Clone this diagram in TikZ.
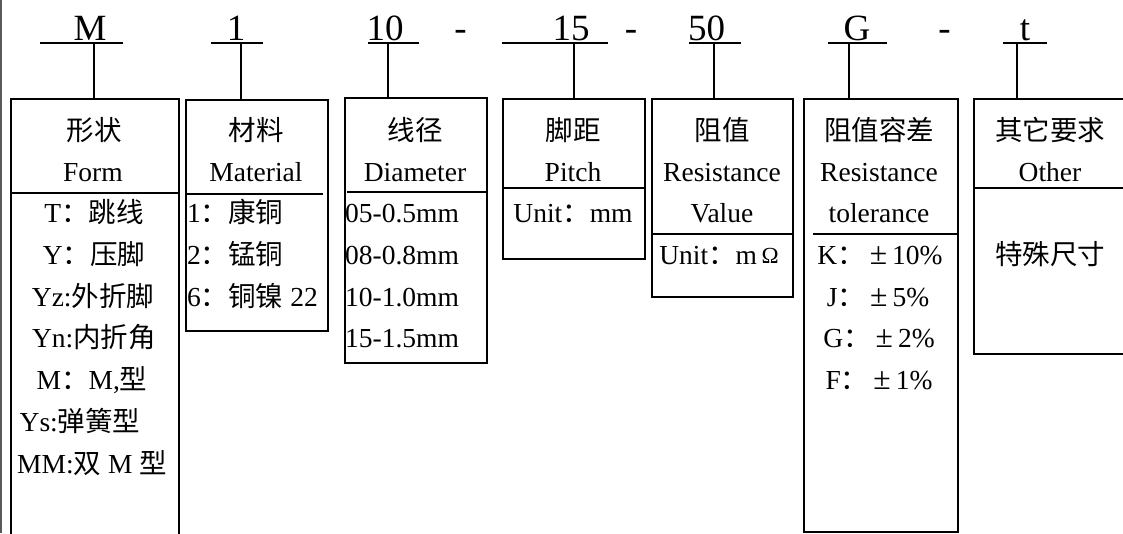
\documentclass[tikz,border=0pt]{standalone}
\usepackage{fontspec}
\setmainfont{Liberation Serif}
\newfontfamily\cjk{Noto Sans CJK SC}
\newcommand\C[1]{{\cjk #1}}
\newcommand\pmw{\makebox[1em]{\scalebox{1.15}{±}}}
\begin{document}
\begin{tikzpicture}[x=1pt,y=-1pt,
  code/.style={font=\fontsize{37}{40}\selectfont, anchor=base, inner sep=0pt},
  txt/.style={font=\fontsize{27.5}{33}\selectfont, anchor=base, inner sep=0pt},
  ltxt/.style={txt, anchor=base west},
  box/.style={draw, line width=1.7pt, anchor=north west, inner sep=0pt},
  divline/.style={line width=2.4pt},
  uline/.style={line width=1.4pt},
  conn/.style={line width=1.4pt},
  thickconn/.style={line width=2.8pt},
]
\useasboundingbox (0,0) rectangle (1123,533);
\fill[white] (0,0) rectangle (1123,533);
\clip (0,0) rectangle (1123,533);
\draw[line width=1.6pt, black!65] (1,0) -- (1,533);

% boxes
\node[box, minimum width=168pt, minimum height=460pt] (bForm) at (10,98) {};
\node[box, minimum width=142pt, minimum height=231pt] (bMat) at (185,99) {};
\node[box, minimum width=142pt, minimum height=265pt] (bDia) at (344,97) {};
\node[box, minimum width=142pt, minimum height=160pt] (bPit) at (502,98) {};
\node[box, minimum width=141pt, minimum height=198pt] (bVal) at (651,98) {};
\node[box, minimum width=154pt, minimum height=433pt] (bTol) at (803,98) {};
\node[box, minimum width=154pt, minimum height=255pt] (bOth) at (973,98) {};

% dividers
\draw[divline] (bForm.west |- 0,193) -- (bForm.east |- 0,193);
\draw[divline] (bMat.west |- 0,194) -- (323,194);
\draw[divline] (347,192) -- (bDia.east |- 0,192);
\draw[divline] (bPit.west |- 0,188) -- (645,188);
\draw[divline] (bVal.west |- 0,234) -- (794,234);
\draw[divline] (813,234) -- (bTol.east |- 0,234);
\draw[divline] (bOth.west |- 0,188) -- (bOth.east |- 0,188);

% code letters
\node[code] (kM) at (90,40) {M};
\node[code] (k1) at (236,40) {1};
\node[code] (k10) at (385,40) {10};
\node[code] (d1) at (460.5,40) {-};
\node[code] (k15) at (571,40) {15};
\node[code] (d2) at (631,40) {-};
\node[code] (k50) at (706.5,40) {50};
\node[code] (kG) at (857,40) {G};
\node[code] (d3) at (944.5,40) {-};
\node[code] (kt) at (1025,40) {t};

% underlines
\draw[uline] (40,43) -- (123,43);
\draw[uline] (211,43) -- (263,43);
\draw[uline] (368,43) -- (419,43);
\draw[uline] (502,43) -- (608,43);
\draw[uline] (689,43) -- (741,43);
\draw[uline] (828,43) -- (887,43);
\draw[uline] (1003,43) -- (1047,43);

% junctions and connectors
\coordinate (jM) at (94,43);
\coordinate (j1) at (241,43);
\coordinate (j10) at (388,43);
\coordinate (j15) at (574,43);
\coordinate (j50) at (714,43);
\coordinate (jG) at (849,43);
\coordinate (jt) at (1017,43);
\draw[thickconn] (jM) -- (jM |- bForm.north);
\draw[conn] (j1) -- (j1 |- bMat.north);
\draw[conn] (j10) -- (j10 |- bDia.north);
\draw[conn] (j15) -- (j15 |- bPit.north);
\draw[conn] (j50) -- (j50 |- bVal.north);
\draw[conn] (jG) -- (jG |- bTol.north);
\draw[conn] (jt) -- (jt |- bOth.north);

% Form
\node[txt] (f1) at (94,140) {\C{形状}};
\node[txt] (f2) at (93,181) {Form};
\node[txt] (f3) at (94,222) {T\C{：跳线}};
\node[txt] (f4) at (94,264) {Y\C{：压脚}};
\node[txt] (f5) at (93,306) {Yz:\C{外折脚}};
\node[txt] (f6) at (94,347.5) {Yn:\C{内折角}};
\node[txt] (f7) at (92,389.5) {M\C{：}M,\C{型}};
\node[txt] (f8) at (80,431.5) {Ys:\C{弹簧型}};
\node[txt] (f9) at (92,473) {MM:\C{双} M \C{型}};

% Material
\node[txt] (m1) at (256,140) {\C{材料}};
\node[txt] (m2) at (256,181) {Material};
\node[ltxt] (m3) at (187,222) {1\C{：康铜}};
\node[ltxt] (m4) at (187,264) {2\C{：锰铜}};
\node[ltxt] (m5) at (187,306) {6\C{：铜镍} 22};

% Diameter
\node[txt] (a1) at (415,140) {\C{线径}};
\node[txt] (a2) at (415,181) {Diameter};
\node[ltxt] (a3) at (345,222) {05-0.5mm};
\node[ltxt] (a4) at (345,264) {08-0.8mm};
\node[ltxt] (a5) at (345,306) {10-1.0mm};
\node[ltxt] (a6) at (345,347.5) {15-1.5mm};

% Pitch
\node[txt] (p1) at (573,140) {\C{脚距}};
\node[txt] (p2) at (573,181) {Pitch};
\node[txt] (p3) at (573,222) {Unit\C{：}mm};

% Value
\node[txt] (v1) at (722,140) {\C{阻值}};
\node[txt] (v2) at (722,181) {Resistance};
\node[txt] (v3) at (722,222) {Value};
\node[txt] (v4) at (719,264) {Unit\C{：}m\,\raisebox{1pt}{\fontsize{23}{23}\selectfont Ω}};

% Tolerance
\node[txt] (t1) at (879,140) {\C{阻值容差}};
\node[txt] (t2) at (879,181) {Resistance};
\node[txt] (t3) at (879,222) {tolerance};
\node[txt] (t4) at (880,264) {K\C{：}\pmw10\%};
\node[txt] (t5) at (878,306) {J\C{：}\pmw5\%};
\node[txt] (t6) at (879,347.5) {G\C{：}\pmw2\%};
\node[txt] (t7) at (879,389.5) {F\C{：}\pmw1\%};

% Other
\node[txt] (o1) at (1050,140) {\C{其它要求}};
\node[txt] (o2) at (1050,181) {Other};
\node[txt] (o3) at (1050,264) {\C{特殊尺寸}};
\end{tikzpicture}
\end{document}
